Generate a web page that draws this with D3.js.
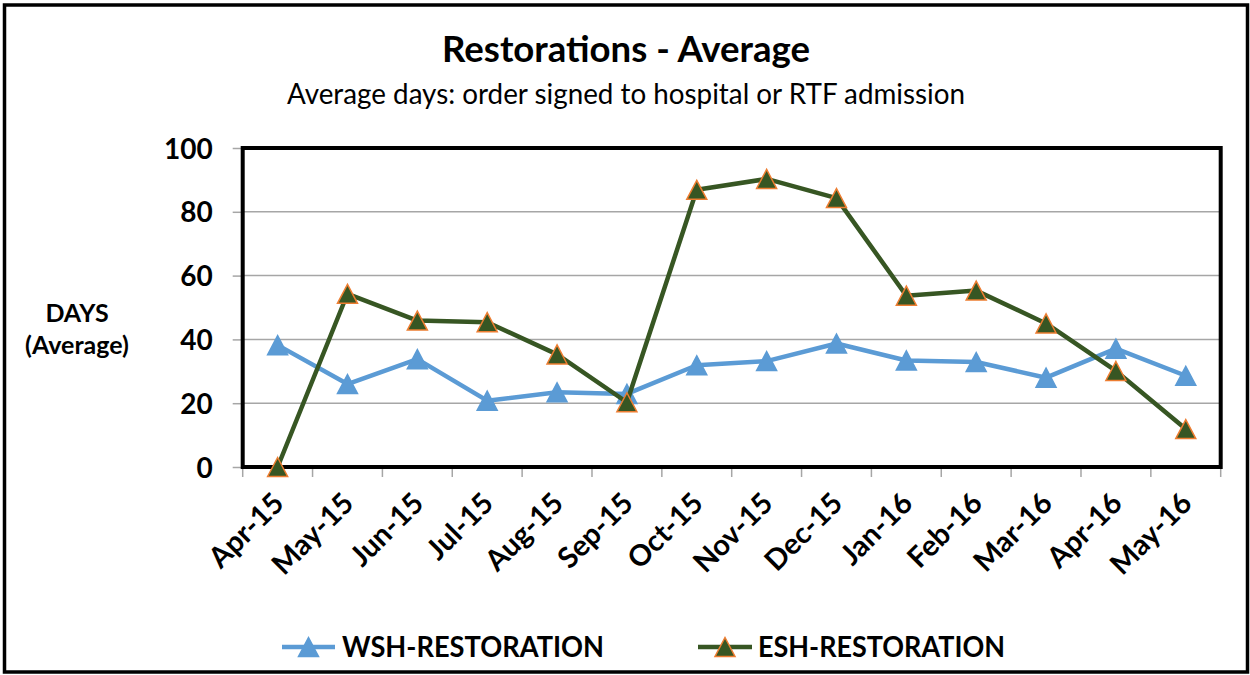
<!DOCTYPE html>
<html>
<head>
<meta charset="utf-8">
<script src="https://cdn.jsdelivr.net/npm/d3@7"></script>
<style>
  html, body { margin: 0; padding: 0; background: #fff; }
  text { font-family: Lato, "Open Sans", sans-serif; fill: #000; }
</style>
</head>
<body>
<main></main>
<script>
// Chart data
const months = ["Apr-15", "May-15", "Jun-15", "Jul-15", "Aug-15", "Sep-15", "Oct-15",
                "Nov-15", "Dec-15", "Jan-16", "Feb-16", "Mar-16", "Apr-16", "May-16"];
const wshValues = [38.2, 26.0, 33.8, 20.8, 23.4, 22.9, 31.9, 33.2, 38.7, 33.4, 32.9, 28.0, 37.1, 28.6];
const eshValues = [0, 54.3, 45.9, 45.4, 35.3, 20.3, 86.9, 90.3, 84.3, 53.7, 55.3, 45.0, 30.1, 11.9];
const yTicks = [0, 20, 40, 60, 80, 100];
const seriesNames = ["WSH-RESTORATION", "ESH-RESTORATION"];

const width = 1250, height = 675;
const plot = { left: 242.7, right: 1220.7, top: 148, bottom: 467 };

const svg = d3.select('main').append('svg')
    .attr('width', width)
    .attr('height', height);

svg.append('rect')
    .attr('width', width).attr('height', height)
    .attr('fill', '#fff');

// outer frame
svg.append('rect')
    .attr('x', 4.5).attr('y', 5)
    .attr('width', 1243).attr('height', 667)
    .attr('fill', 'none')
    .attr('stroke', '#000')
    .attr('stroke-width', 3.5);

const x = d3.scaleBand()
    .domain(months)
    .range([plot.left, plot.right])
    .padding(0);

const y = d3.scaleLinear()
    .domain([0, 100])
    .range([plot.bottom, plot.top]);

// horizontal gridlines
svg.append('g')
    .selectAll('line')
    .data(yTicks.filter(d => d > 0 && d < 100))
    .enter()
    .append('line')
    .attr('x1', plot.left).attr('x2', plot.right)
    .attr('y1', d => y(d)).attr('y2', d => y(d))
    .attr('stroke', '#a6a6a6')
    .attr('stroke-width', 1.5);

// y axis
const yAxis = svg.append('g')
    .attr('transform', `translate(${plot.left},0)`)
    .call(d3.axisLeft(y).tickValues(yTicks).tickSize(10).tickPadding(20));
yAxis.select('.domain').remove();
yAxis.selectAll('.tick line').attr('stroke', '#a6a6a6').attr('stroke-width', 1.5);
yAxis.selectAll('.tick text')
    .attr('font-family', 'Lato, sans-serif')
    .attr('font-size', 28)
    .attr('font-weight', 700)
    .attr('fill', '#000')
    .attr('dy', '0.36em');

// x axis ticks at band edges
const edges = months.map(m => x(m)).concat([plot.right]);
svg.append('g')
    .selectAll('line')
    .data(edges)
    .enter()
    .append('line')
    .attr('x1', d => d).attr('x2', d => d)
    .attr('y1', plot.bottom).attr('y2', plot.bottom + 10)
    .attr('stroke', '#a6a6a6')
    .attr('stroke-width', 1.5);

// x labels, rotated
svg.append('g')
    .selectAll('text')
    .data(months)
    .enter()
    .append('text')
    .attr('transform', d => `translate(${x(d) + x.bandwidth() / 2 + 8},${plot.bottom + 38}) rotate(-45)`)
    .attr('text-anchor', 'end')
    .attr('font-size', 29)
    .attr('font-weight', 700)
    .text(d => d);

// plot frame
svg.append('rect')
    .attr('x', plot.left).attr('y', plot.top)
    .attr('width', plot.right - plot.left)
    .attr('height', plot.bottom - plot.top)
    .attr('fill', 'none')
    .attr('stroke', '#000')
    .attr('stroke-width', 4);

// triangle marker, centred on its bounding box
const tri = (hw, hh) => `M0,${-hh}L${hw},${hh}L${-hw},${hh}Z`;

const line = d3.line()
    .x((d, i) => x(months[i]) + x.bandwidth() / 2)
    .y(d => y(d));

const series = [
    { name: seriesNames[0], values: wshValues, color: '#5b9bd5', fill: '#5b9bd5', edge: '#5b9bd5' },
    { name: seriesNames[1], values: eshValues, color: '#375623', fill: '#375623', edge: '#ed7d31' }
];

series.forEach(s => {
    svg.append('path')
        .datum(s.values)
        .attr('fill', 'none')
        .attr('stroke', s.color)
        .attr('stroke-width', 4.5)
        .attr('stroke-linejoin', 'round')
        .attr('d', line);

    svg.append('g')
        .selectAll('path')
        .data(s.values)
        .enter()
        .append('path')
        .attr('transform', (d, i) => `translate(${x(months[i]) + x.bandwidth() / 2},${y(d)})`)
        .attr('d', tri(10, 9.5))
        .attr('fill', s.fill)
        .attr('stroke', s.edge)
        .attr('stroke-width', 1.5);
});

// titles
svg.append('text')
    .attr('x', 626).attr('y', 62)
    .attr('text-anchor', 'middle')
    .attr('font-size', 36)
    .attr('font-weight', 700)
    .attr('textLength', 368)
    .attr('lengthAdjust', 'spacingAndGlyphs')
    .text('Restorations - Average');

svg.append('text')
    .attr('x', 626).attr('y', 104)
    .attr('text-anchor', 'middle')
    .attr('font-size', 28)
    .attr('textLength', 678)
    .attr('lengthAdjust', 'spacingAndGlyphs')
    .text('Average days: order signed to hospital or RTF admission');

// y axis title
svg.append('text')
    .attr('x', 77).attr('y', 322)
    .attr('text-anchor', 'middle')
    .attr('font-size', 25)
    .attr('font-weight', 700)
    .text('DAYS');
svg.append('text')
    .attr('x', 77).attr('y', 354)
    .attr('text-anchor', 'middle')
    .attr('font-size', 25)
    .attr('font-weight', 700)
    .text('(Average)');

// legend
const legendItems = [
    { s: series[0], x0: 282, x1: 335, textX: 342, textLen: 262 },
    { s: series[1], x0: 698, x1: 752, textX: 758, textLen: 247 }
];
const legendY = 647;
legendItems.forEach(item => {
    const g = svg.append('g');
    g.append('line')
        .attr('x1', item.x0).attr('x2', item.x1)
        .attr('y1', legendY).attr('y2', legendY)
        .attr('stroke', item.s.color)
        .attr('stroke-width', 4.5);
    g.append('path')
        .attr('transform', `translate(${(item.x0 + item.x1) / 2},${legendY})`)
        .attr('d', tri(10, 9.5))
        .attr('fill', item.s.fill)
        .attr('stroke', item.s.edge)
        .attr('stroke-width', 1.5);
    g.append('text')
        .attr('x', item.textX).attr('y', legendY + 10)
        .attr('font-size', 28)
        .attr('font-weight', 700)
        .attr('textLength', item.textLen)
        .attr('lengthAdjust', 'spacingAndGlyphs')
        .text(item.s.name);
});
</script>
</body>
</html>
